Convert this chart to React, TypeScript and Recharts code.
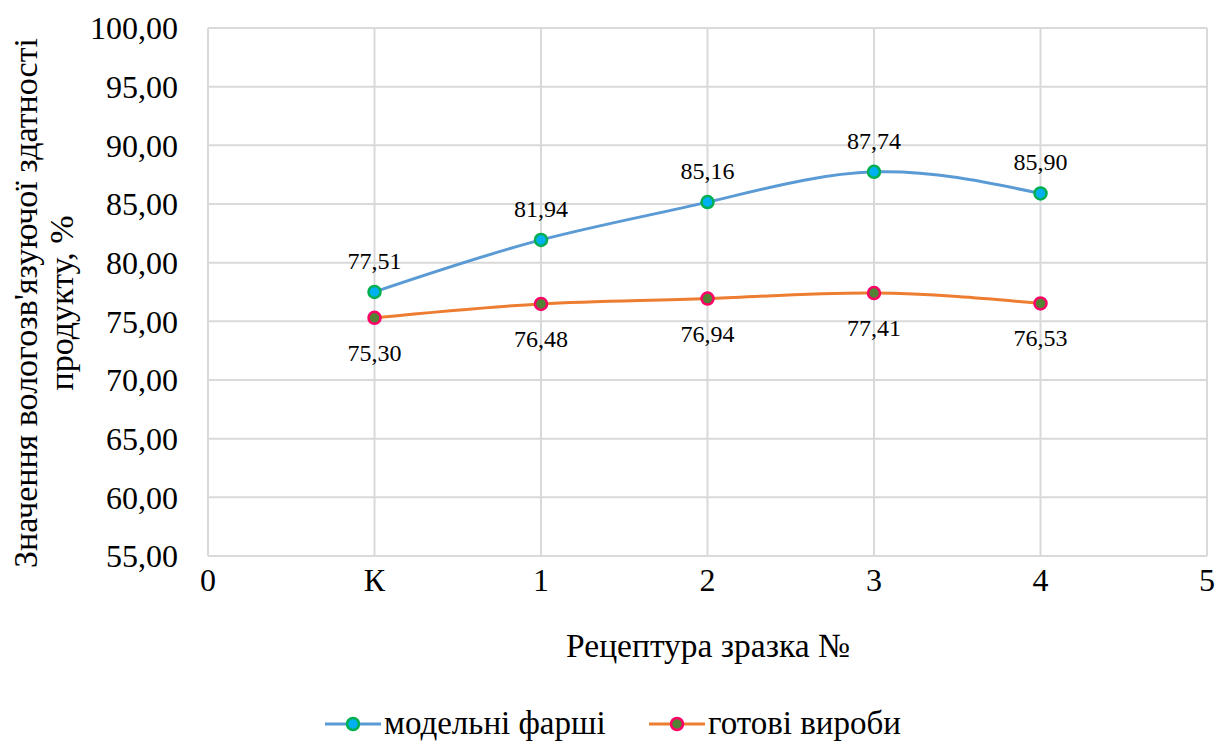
import React from "react";
import { LineChart, Line, XAxis, YAxis, CartesianGrid, LabelList } from "recharts";

// x positions 1..5 correspond to samples К,1,2,3,4 (axis runs 0..6)
const xPositions = [1, 2, 3, 4, 5];
const xTickLabels = ["0", "К", "1", "2", "3", "4", "5"];
const yTicks = [55, 60, 65, 70, 75, 80, 85, 90, 95, 100];
const modelFarshi = [77.51, 81.94, 85.16, 87.74, 85.9];
const gotoviVyroby = [75.3, 76.48, 76.94, 77.41, 76.53];

const SERIES = {
  farshi: { name: "модельні фарші", line: "#5B9BD5", fill: "#00B0F0", stroke: "#00B050" },
  vyroby: { name: "готові вироби", line: "#ED7D31", fill: "#548235", stroke: "#FF0066" },
};

const FONT = "'Liberation Serif', 'DejaVu Serif', serif";
const GRID = "#D9D9D9";

const data = xPositions.map((x, i) => ({
  x,
  farshi: modelFarshi[i],
  vyroby: gotoviVyroby[i],
}));

const fmt = (v: number) => v.toFixed(2).replace(".", ",");

// value label drawn above (dir=-1) or below (dir=1) the point
const valueLabel = (dir: number, gap: number) => (props: any) => {
  const { x, y, value } = props;
  return (
    <text
      x={x}
      y={y + dir * gap}
      textAnchor="middle"
      dominantBaseline="central"
      fontFamily={FONT}
      fontSize={24}
      fill="#000"
    >
      {fmt(Number(value))}
    </text>
  );
};

function Overlay() {
  return (
    <svg
      width={1217}
      height={742}
      style={{ position: "absolute", left: 0, top: 0, pointerEvents: "none" }}
    >
      <text
        transform="translate(45, 303) rotate(-90)"
        textAnchor="middle"
        fontFamily={FONT}
        fontSize={34}
        fill="#000"
      >
        <tspan x={0} dy={-8}>Значення вологозв'язуючої здатності</tspan>
        <tspan x={0} dy={36}>продукту, %</tspan>
      </text>
      <text x={708} y={657} textAnchor="middle" fontFamily={FONT} fontSize={33.5} fill="#000">
        Рецептура зразка №
      </text>
      {/* legend */}
      {[
        { s: SERIES.farshi, x: 325 },
        { s: SERIES.vyroby, x: 649 },
      ].map(({ s, x }) => (
        <g key={s.name}>
          <line x1={x} y1={724} x2={x + 56} y2={724} stroke={s.line} strokeWidth={3} />
          <circle cx={x + 28} cy={724} r={6} fill={s.fill} stroke={s.stroke} strokeWidth={2.5} />
          <text x={x + 59} y={734} fontFamily={FONT} fontSize={33} fill="#000">
            {s.name}
          </text>
        </g>
      ))}
    </svg>
  );
}

export default function App() {
  return (
    <div style={{ position: "absolute", left: 0, top: 0, width: 1217, height: 742, background: "#fff" }}>
      <LineChart
        width={1217}
        height={742}
        data={data}
        margin={{ top: 28, right: 10, left: 108, bottom: 126 }}
      >
        <CartesianGrid stroke={GRID} strokeWidth={2} />
        <XAxis
          dataKey="x"
          type="number"
          domain={[0, 6]}
          ticks={[0, 1, 2, 3, 4, 5, 6]}
          tickFormatter={(v) => xTickLabels[v]}
          axisLine={{ stroke: GRID, strokeWidth: 2 }}
          tickLine={false}
          tickSize={0}
          tickMargin={12}
          tick={{ fill: "#000", fontSize: 32, fontFamily: FONT }}
          height={60}
        />
        <YAxis
          type="number"
          domain={[55, 100]}
          ticks={yTicks}
          tickFormatter={fmt}
          axisLine={{ stroke: GRID, strokeWidth: 2 }}
          tickLine={false}
          tickSize={0}
          tickMargin={30}
          tick={{ fill: "#000", fontSize: 32, fontFamily: FONT }}
          width={100}
        />
        <Line
          type="natural"
          dataKey="farshi"
          name={SERIES.farshi.name}
          stroke={SERIES.farshi.line}
          strokeWidth={3}
          dot={{ r: 6, fill: SERIES.farshi.fill, stroke: SERIES.farshi.stroke, strokeWidth: 2.5 }}
          isAnimationActive={false}
        >
          <LabelList dataKey="farshi" content={valueLabel(-1, 31)} />
        </Line>
        <Line
          type="natural"
          dataKey="vyroby"
          name={SERIES.vyroby.name}
          stroke={SERIES.vyroby.line}
          strokeWidth={3}
          dot={{ r: 6, fill: SERIES.vyroby.fill, stroke: SERIES.vyroby.stroke, strokeWidth: 2.5 }}
          isAnimationActive={false}
        >
          <LabelList dataKey="vyroby" content={valueLabel(1, 35)} />
        </Line>
      </LineChart>
      <Overlay />
    </div>
  );
}
